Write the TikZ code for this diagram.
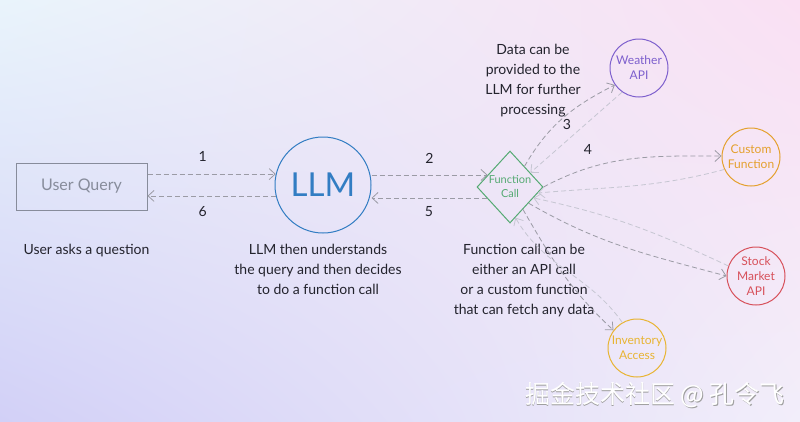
\documentclass[tikz,border=0pt]{standalone}
\usepackage{fontspec}
\setmainfont{Lato}
\newfontfamily\cjkfont{Noto Sans CJK SC}
\usetikzlibrary{arrows.meta, positioning, shapes.geometric, shadings, calc}

\definecolor{querygray}{RGB}{135,140,155}
\definecolor{llmblue}{RGB}{50,125,195}
\definecolor{fcgreen}{RGB}{85,170,115}
\definecolor{weatherpurple}{RGB}{125,95,205}
\definecolor{customorange}{RGB}{228,160,45}
\definecolor{stockred}{RGB}{215,80,90}
\definecolor{invyellow}{RGB}{232,180,50}
\definecolor{arrdark}{RGB}{155,155,165}
\definecolor{arrlight}{RGB}{198,198,210}
\definecolor{textdark}{RGB}{35,35,45}
\definecolor{bgtl}{RGB}{233,244,251}
\definecolor{bgtr}{RGB}{250,224,243}
\definecolor{bgbl}{RGB}{210,208,247}
\definecolor{bgbr}{RGB}{242,238,250}

\begin{document}
\begin{tikzpicture}[x=1pt, y=1pt,
        svc/.style={circle, draw, line width=1pt, minimum size=58pt, inner sep=0pt, align=center, font=\fontsize{12}{15}\selectfont},
        caption/.style={align=center, inner sep=0pt, text=textdark, font=\fontsize{14}{20}\selectfont},
        num/.style={inner sep=0pt, text=textdark, font=\fontsize{14}{16}\selectfont},
        arr/.style={-{Straight Barb[length=6pt, width=11pt]}, dash pattern=on 5pt off 3pt, line width=0.8pt, draw=arrdark},
        back/.style={arr, draw=arrlight},
        node distance=0.5cm
        ]
        \shade[upper left=bgtl, upper right=bgtr, lower left=bgbl, lower right=bgbr] (0,0) rectangle (800,-421);
        \useasboundingbox (0,0) rectangle (800,-421);

        \node[rectangle, draw=querygray, line width=1pt, minimum width=131pt, minimum height=47pt, text=querygray, font=\fontsize{16}{18}\selectfont] (query) at (81.5,-186.5) {User Query};
        \node[circle, draw=llmblue, line width=1pt, minimum size=96pt, text=llmblue, font=\fontsize{33}{35}\selectfont] (llm) at (323,-185) {LLM};
        \node[diamond, draw=fcgreen, line width=1pt, minimum width=66pt, minimum height=72pt, inner sep=0pt, align=center, text=fcgreen, font=\fontsize{11}{14}\selectfont] (fc) at (510,-187) {Function\\Call};
        \node[svc, draw=weatherpurple, text=weatherpurple] (weather) at (639,-68) {Weather\\API};
        \node[svc, draw=customorange, text=customorange] (custom) at (751,-157) {Custom\\Function};
        \node[svc, draw=stockred, text=stockred] (stock) at (756,-276) {Stock\\Market\\API};
        \node[svc, draw=invyellow, text=invyellow] (inventory) at (637,-348) {Inventory\\Access};

        \node[caption, below=33pt of query, xshift=5pt] (askcap) {User asks a question};
        \node[caption, below=10pt of llm, xshift=-5pt] (llmcap) {LLM then understands\\the query and then decides\\to do a function call};
        \node[caption, below=20pt of fc, xshift=14pt] (fccap) {Function call can be\\either an API call\\or a custom function\\that can fetch any data};
        \node[caption, anchor=north] (datacap) at (533,-44) {Data can be\\provided to the\\LLM for further\\processing};

        \coordinate (fcin) at ($(fc.west)!0.33!(fc.north)$);
        \coordinate (fcout) at ($(fc.west)!0.3!(fc.south)$);
        \draw[arr] (query.east |- llm.167) -- (llm.167) node[num, pos=0.43, above=12pt] {1};
        \draw[arr] (llm.193) -- (query.east |- llm.193) node[num, pos=0.57, below=10pt] {6};
        \draw[arr] (llm.east |- fcin) -- (fcin) node[num, midway, above=11pt] {2};
        \draw[arr] (fcout) -- (llm.east |- fcout) node[num, midway, below=8pt] {5};

        \draw[arr] (fc.55) to[out=60, in=207] (weather.215);
        \draw[back] (weather.235) -- (fc.35);
        \draw[arr] (fc.east) to[out=28, in=180] (custom.178);
        \draw[back] (custom.205) to[out=195, in=5] (fc.-12);
        \draw[arr] (fc.-41) to[out=-30, in=165] (stock.180);
        \draw[back] (stock.160) to[out=155, in=-12] (fc.-25);
        \draw[arr] (fc.-60) to[out=-60, in=137] (inventory.143);
        \draw[back] (inventory.120) to[out=125, in=-60] (fc.-80);
        \node[num] (three) at (567,-124) {3};
        \node[num] (four) at (588,-149) {4};

        \node[text=gray!75, font=\cjkfont\fontsize{25}{25}\selectfont] (wmshade) at (655.8,-395.8) {掘金技术社区 @ 孔令飞};
        \node[text=white, font=\cjkfont\fontsize{25}{25}\selectfont] (wm) at (655,-395) {掘金技术社区 @ 孔令飞};
    \end{tikzpicture}
\end{document}
